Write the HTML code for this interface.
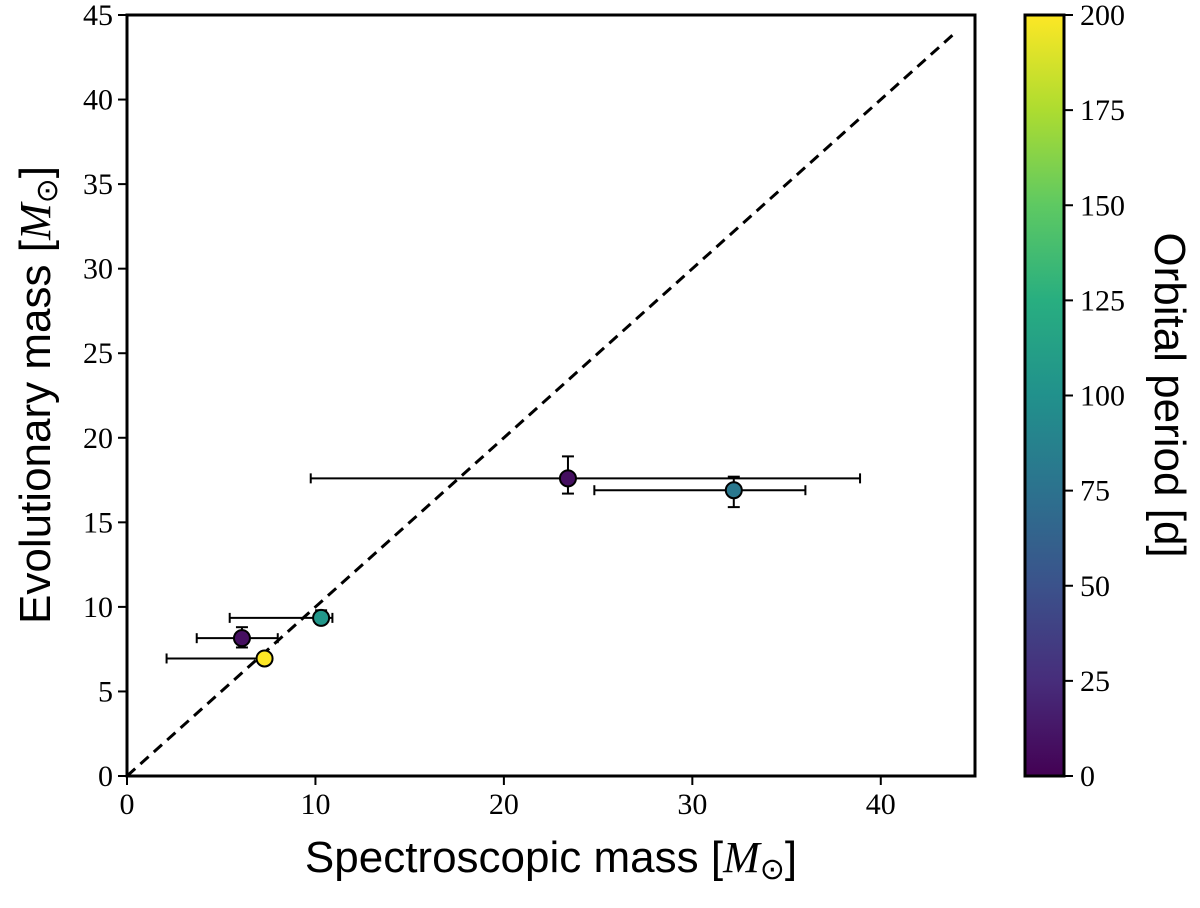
<!DOCTYPE html>
<html><head><meta charset="utf-8"><style>
body{margin:0;background:#fff}
svg text{font-family:"Liberation Serif",serif}
</style></head><body>
<svg id="chart" width="1200" height="903" viewBox="0 0 1200 903" xmlns="http://www.w3.org/2000/svg">
<defs>
<linearGradient id="viridis" x1="0" y1="1" x2="0" y2="0">
<stop offset="0" stop-color="#440154"/><stop offset="0.125" stop-color="#472d7b"/>
<stop offset="0.25" stop-color="#3b528b"/><stop offset="0.375" stop-color="#2c728e"/>
<stop offset="0.5" stop-color="#21918c"/><stop offset="0.625" stop-color="#28ae80"/>
<stop offset="0.75" stop-color="#5ec962"/><stop offset="0.875" stop-color="#addc30"/>
<stop offset="1" stop-color="#fde725"/>
</linearGradient>
</defs>
<g id="plot"></g>
<g id="cbar"></g>
<text x="551" y="872" text-anchor="middle" font-size="44" style="font-family:'Liberation Sans',sans-serif">Spectroscopic mass [<tspan font-style="italic" style="font-family:'Liberation Serif',serif">M</tspan><tspan font-size="30" dy="7">⊙</tspan><tspan dy="-7">]</tspan></text>
<text transform="translate(50,395) rotate(-90)" text-anchor="middle" font-size="44" style="font-family:'Liberation Sans',sans-serif">Evolutionary mass [<tspan font-style="italic" style="font-family:'Liberation Serif',serif">M</tspan><tspan font-size="30" dy="7">⊙</tspan><tspan dy="-7">]</tspan></text>
<text transform="translate(1155,395) rotate(90)" text-anchor="middle" font-size="44" style="font-family:'Liberation Sans',sans-serif">Orbital period [d]</text>
</svg>
<script>
const specMass=[23.4,32.2,10.3,6.1,7.3];
const specLo=[9.75,24.8,5.45,3.7,2.1];
const specHi=[38.9,36.0,10.9,8.0,7.3];
const evoMass=[17.6,16.9,9.35,8.15,6.95];
const evoLo=[16.7,15.9,9.0,7.6,6.8];
const evoHi=[18.9,17.7,9.8,8.8,7.1];
const period=[8,80,105,8,200];
const xTicks=[0,10,20,30,40];
const yTicks=[0,5,10,15,20,25,30,35,40,45];
const cTicks=[0,25,50,75,100,125,150,175,200];
const viridis=['#440154','#472d7b','#3b528b','#2c728e','#21918c','#28ae80','#5ec962','#addc30','#fde725'];
const NS='http://www.w3.org/2000/svg';
const L=127,R=975,T=15,B=776;
const sx=v=>L+(v/45)*(R-L), sy=v=>B-(v/45)*(B-T);
const CL=1025,CR=1064, sc=v=>B-(v/200)*(B-T);
function mk(p,tag,a){const e=document.createElementNS(NS,tag);for(const k in a)e.setAttribute(k,a[k]);p.appendChild(e);return e;}
function hex(c){return[1,3,5].map(i=>parseInt(c.substr(i,2),16));}
function cmap(v){const t=Math.max(0,Math.min(1,v/200))*8,i=Math.min(7,Math.floor(t)),f=t-i;const a=hex(viridis[i]),b=hex(viridis[i+1]);return 'rgb('+a.map((x,k)=>Math.round(x+(b[k]-x)*f)).join(',')+')';}
const g=document.getElementById('plot'), cb=document.getElementById('cbar');
xTicks.forEach(v=>{const l=mk(g,'line',{x1:sx(v),x2:sx(v),y1:B,y2:B+9,stroke:'#000','stroke-width':2});

const t=mk(g,'text',{x:sx(v),y:B+38,'text-anchor':'middle','font-size':30});t.textContent=v;
});
yTicks.forEach(v=>{const l=mk(g,'line',{x1:L-9,x2:L,y1:sy(v),y2:sy(v),stroke:'#000','stroke-width':2});

const t=mk(g,'text',{x:L-14,y:sy(v)+10,'text-anchor':'end','font-size':30});t.textContent=v;
});
const d=mk(g,'line',{x1:sx(0),y1:sy(0),x2:sx(44),y2:sy(44),stroke:'#000','stroke-width':3,'stroke-dasharray':'11,7'});

specMass.forEach((m,i)=>{
const e=mk(g,'g',{stroke:'#000','stroke-width':2});

const y=sy(evoMass[i]),x=sx(m);
mk(e,'line',{x1:sx(specLo[i]),x2:sx(specHi[i]),y1:y,y2:y});
mk(e,'line',{x1:sx(specLo[i]),x2:sx(specLo[i]),y1:y-5,y2:y+5});
mk(e,'line',{x1:sx(specHi[i]),x2:sx(specHi[i]),y1:y-5,y2:y+5});
mk(e,'line',{x1:x,x2:x,y1:sy(evoLo[i]),y2:sy(evoHi[i])});
mk(e,'line',{x1:x-6,x2:x+6,y1:sy(evoLo[i]),y2:sy(evoLo[i])});
mk(e,'line',{x1:x-6,x2:x+6,y1:sy(evoHi[i]),y2:sy(evoHi[i])});
const c=mk(g,'circle',{cx:x,cy:y,r:8,fill:cmap(period[i]),stroke:'#000','stroke-width':2});
});
const f=mk(g,'rect',{x:L,y:T,width:R-L,height:B-T,fill:'none',stroke:'#000','stroke-width':3});

const bar=mk(cb,'rect',{x:CL,y:T,width:CR-CL,height:B-T,fill:'url(#viridis)',stroke:'#000','stroke-width':3});

cTicks.forEach(v=>{const l=mk(cb,'line',{x1:CR,x2:CR+9,y1:sc(v),y2:sc(v),stroke:'#000','stroke-width':2});

const t=mk(cb,'text',{x:CR+16,y:sc(v)+10,'font-size':30});t.textContent=v;
});
</script>
</body></html>
